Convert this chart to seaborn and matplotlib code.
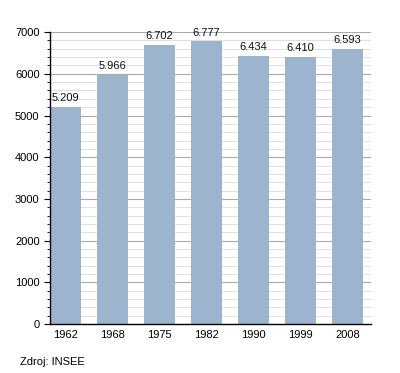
import matplotlib
matplotlib.use("Agg")
import matplotlib.pyplot as plt
import seaborn as sns
import pandas as pd
from matplotlib.ticker import MultipleLocator

years = ["1962", "1968", "1975", "1982", "1990", "1999", "2008"]
population = [5209, 5966, 6702, 6777, 6434, 6410, 6593]
labels = ["5.209", "5.966", "6.702", "6.777", "6.434", "6.410", "6.593"]

sns.set_style("white")
plt.rcParams['font.family'] = ['Liberation Sans', 'DejaVu Sans']

df = pd.DataFrame({"year": years, "pop": population})

fig = plt.figure(figsize=(4.0, 3.73), dpi=100)
ax = fig.add_axes([0.125, 0.131, 0.8025, 0.783])

ax.yaxis.set_major_locator(MultipleLocator(1000))
ax.yaxis.set_minor_locator(MultipleLocator(200))
ax.grid(which="major", axis="y", color="#aaaaaa", linewidth=0.8, zorder=0)
ax.grid(which="minor", axis="y", color="#e0e0e0", linewidth=0.7, zorder=0)
ax.set_axisbelow(True)

sns.barplot(data=df, x="year", y="pop", color="#9cb4cd", saturation=1,
            width=0.66, ax=ax, zorder=2, linewidth=0)

for i, (v, t) in enumerate(zip(population, labels)):
    ax.text(i, v + 90, t, ha="center", va="bottom", fontsize=8, color="#111111")

ax.set_ylim(0, 7000)
ax.set_xlim(-0.33, 6.5)
ax.set_xlabel("")
ax.set_ylabel("")
for s in ["top", "right"]:
    ax.spines[s].set_visible(False)
ax.spines["left"].set_color("black")
ax.spines["bottom"].set_color("black")
ax.spines["left"].set_linewidth(1.0)
ax.spines["bottom"].set_linewidth(1.0)
ax.tick_params(axis="y", which="major", left=True, length=4, width=0.8, labelsize=8, colors="black")
ax.tick_params(axis="y", which="minor", left=True, length=2.5, width=0.6, colors="black")
ax.tick_params(axis="x", bottom=False, labelsize=8, colors="black", pad=1)

fig.text(0.05, 0.03, "Zdroj: INSEE", fontsize=8, ha="left", va="center", color="black")

fig.savefig("out.png", dpi=100)
